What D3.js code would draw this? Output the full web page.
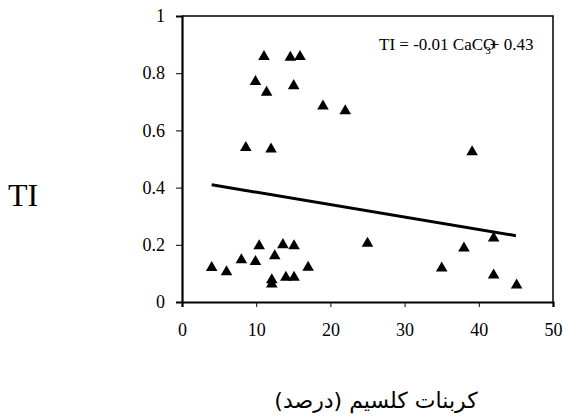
<!DOCTYPE html>
<html>
<head>
<meta charset="utf-8">
<script src="https://cdn.jsdelivr.net/npm/d3@7"></script>
<style>
  body { margin: 0; background: #fff; }
  svg { display: block; }
  text { font-family: "Liberation Serif", "DejaVu Serif", serif; fill: #000; }
</style>
</head>
<body>
<svg width="563" height="418"></svg>
<script>
// CaCO3 (%) and TI values
const caco3 = [4, 6, 8, 9.9, 10.4, 12.5, 12.1, 12.1, 13.6, 14, 15.1, 15.1, 17,
  11.05, 14.6, 15.9, 9.9, 11.4, 15.05, 19, 22, 8.6, 12,
  39.1, 25, 38, 42, 35, 42, 45.1];
const ti = [0.12, 0.105, 0.147, 0.141, 0.196, 0.161, 0.077, 0.062, 0.2, 0.086, 0.196, 0.086, 0.121,
  0.858, 0.855, 0.858, 0.77, 0.733, 0.756, 0.685, 0.668, 0.54, 0.534,
  0.525, 0.205, 0.188, 0.223, 0.118, 0.094, 0.059];
const xTicks = [0, 10, 20, 30, 40, 50];
const yTicks = [0, 0.2, 0.4, 0.6, 0.8, 1];
// trend line ends
const trendX = [4, 45];
const trendY = [0.41, 0.232];

const svg = d3.select('svg');
const margin = {top: 16, right: 10, bottom: 116, left: 182};
const width = 563 - margin.left - margin.right;
const height = 418 - margin.top - margin.bottom;

const x = d3.scaleLinear().domain([0, 50]).range([0, width]);
const y = d3.scaleLinear().domain([0, 1]).range([height, 0]);

const g = svg.append('g')
  .attr('transform', `translate(${margin.left},${margin.top})`);

// top and right frame
g.append('path')
  .attr('d', `M0,0H${width}V${height}`)
  .attr('fill', 'none')
  .attr('stroke', '#000')
  .attr('stroke-width', 1.5);

const xAxis = g.append('g')
  .attr('transform', `translate(0,${height})`)
  .call(d3.axisBottom(x).tickValues(xTicks).tickSize(5).tickPadding(16).tickFormat(d3.format('d')));
const yAxis = g.append('g')
  .call(d3.axisLeft(y).tickValues(yTicks).tickSize(6).tickPadding(11).tickFormat(d => d));

[xAxis, yAxis].forEach(a => {
  a.attr('font-family', null).attr('font-size', null);
  a.select('.domain').attr('stroke-width', 2.2);
  a.selectAll('.tick line').attr('stroke-width', 1);
  a.selectAll('.tick text')
    .style('font-size', '18px')
    .style('font-family', '"Liberation Serif", serif');
});

// trend line
g.append('line')
  .attr('x1', x(trendX[0])).attr('y1', y(trendY[0]))
  .attr('x2', x(trendX[1])).attr('y2', y(trendY[1]))
  .attr('stroke', '#000')
  .attr('stroke-width', 3);

// points
const tri = d3.symbol().type(d3.symbolTriangle).size(58);
g.selectAll('.pt').data(caco3)
  .enter().append('path')
  .attr('class', 'pt')
  .attr('d', tri)
  .attr('transform', (d, i) => `translate(${x(d)},${y(ti[i])})`)
  .attr('fill', '#000');

// equation
const eq = g.append('text')
  .attr('x', 197)
  .attr('y', 34)
  .style('font-size', '17px');
eq.append('tspan').text('TI = -0.01 CaCO');
eq.append('tspan').text('3').style('font-size', '11px').attr('dy', 4).attr('dx', -10);
eq.append('tspan').text('+ 0.43').attr('dy', -4).attr('dx', -1);

// axis titles
svg.append('text')
  .attr('x', 8)
  .attr('y', 206)
  .style('font-size', '32px')
  .text('TI');

svg.append('text')
  .attr('x', 376)
  .attr('y', 408)
  .attr('text-anchor', 'middle')
  .attr('direction', 'rtl')
  .style('font-size', '22px')
  .style('font-family', '"DejaVu Sans", sans-serif')
  .text('کربنات کلسیم  (درصد)');
</script>
</body>
</html>
